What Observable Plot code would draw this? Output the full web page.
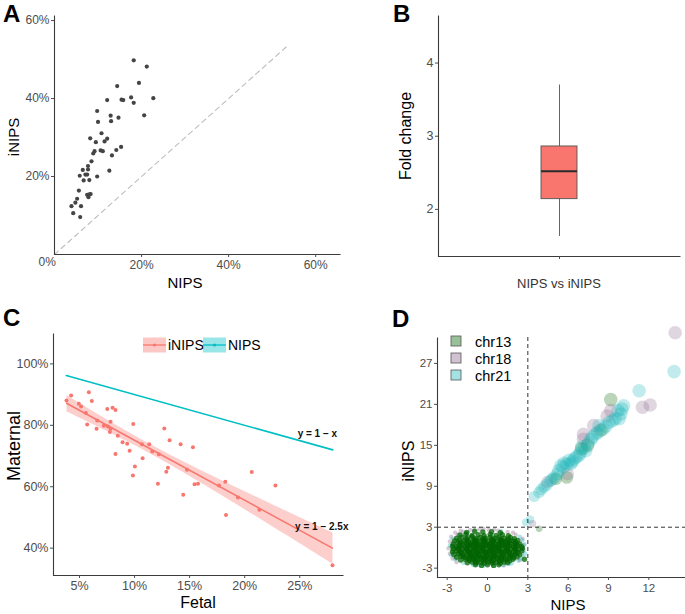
<!DOCTYPE html>
<html><head><meta charset="utf-8">
<script src="https://cdn.jsdelivr.net/npm/d3@7"></script>
<script src="https://cdn.jsdelivr.net/npm/@observablehq/plot@0.6"></script>
<style>
html,body{margin:0;padding:0;background:#fff;}
#fig{position:relative;width:685px;height:614px;background:#fff;overflow:hidden;}
#fig svg{position:absolute;}
</style></head>
<body><div id="fig"></div>
<script>
// ---------- Panel A: NIPS vs iNIPS fetal fraction (%)
const aNips  = [18.2,21.2,19.4,14.4,22.7,17.6,12.1,15.4,15.8,18.2,9.8,20.6,12.9,14.7,10.0,13.0,10.8,8.2,12.1,9.5,11.5,14.2,15.3,9.2,8.9,10.6,11.1,13.2,8.5,7.7,6.5,7.7,12.6,7.1,7.5,5.8,9.8,6.7,8.0,5.6,7.5,8.0,8.3,7.8,5.2,4.8,3.9,6.1,4.3,5.9];
const aInips = [49.8,48.2,44.0,43.2,40.1,40.3,39.6,39.7,39.6,38.9,36.8,35.7,35.6,35.1,34.0,34.2,31.1,29.8,29.7,28.8,29.0,26.8,27.6,26.5,25.9,26.7,26.5,25.4,23.9,22.7,21.7,21.8,21.5,20.5,20.5,20.2,20.0,19.0,19.1,16.4,15.3,15.4,15.5,14.7,14.3,13.3,12.4,12.4,10.6,9.6];
const aDiagX = [0, 53.5];
const aDiagY = [0, 53.5];
const aTicks = [20, 40, 60];

// ---------- Panel B: fold change summary
const bCategory = ["NIPS vs iNIPS"];
const bLower  = [1.63];
const bQ1     = [2.14];
const bMedian = [2.52];
const bQ3     = [2.86];
const bUpper  = [3.70];
const bTicks  = [2, 3, 4];

// ---------- Panel C: fetal vs maternal (%)
const cFetal    = [3.82,4.24,4.94,5.15,5.85,6.12,5.58,5.70,6.61,6.55,7.21,7.52,8.00,8.27,7.58,7.82,7.82,7.76,8.48,8.91,8.27,9.33,9.55,9.88,10.03,9.85,10.67,10.73,11.33,11.61,12.21,12.12,12.70,12.88,13.03,13.18,14.18,14.42,14.76,15.30,15.45,15.76,17.67,18.24,18.30,19.39,20.64,21.33,22.79,27.97];
const cMaternal = [88.1,89.7,87.0,86.1,90.8,87.9,84.0,80.3,81.6,78.9,79.9,85.3,85.7,85.0,79.6,81.2,78.9,77.8,76.6,74.5,70.7,74.0,71.7,80.4,66.6,63.7,73.8,69.3,73.8,71.5,70.6,61.0,79.0,64.9,66.2,75.1,73.8,57.4,65.5,72.9,60.8,61.0,60.4,61.6,50.8,56.5,64.8,52.5,60.4,34.4];
const cNipsFetal    = [3.8, 28.0];
const cNipsMaternal = [96.2, 72.0];
const cAnnotText = ["y = 1 \u2212 x", "y = 1 \u2212 2.5x"];
const cAnnotX    = [26.6, 27.0];
const cAnnotY    = [77.3, 46.9];
const cXTicks = [5, 10, 15, 20, 25];
const cYTicks = [40, 60, 80, 100];

// ---------- Panel D: z-scores, NIPS vs iNIPS
const d13Null = [[-1.55,2.25],[-0.95,2.4],[-0.35,2.3],[0.3,2.35],[0.95,2.2],
[-2.05,1.85],[-1.6,1.95],[-1.15,1.8],[-0.7,1.9],[-0.25,1.75],[0.2,1.95],[0.65,1.8],[1.1,1.9],[1.55,1.75],
[-2.3,1.4],[-1.9,1.55],[-1.5,1.45],[-1.15,1.6],[-0.85,1.35],[-0.5,1.5],[-0.15,1.4],[0.2,1.55],[0.5,1.35],[0.85,1.5],[1.25,1.4],[1.7,1.5],[2.0,1.3],
[-2.45,1.0],[-2.1,1.1],[-1.75,0.95],[-1.45,1.1],[-1.1,0.9],[-0.8,1.05],[-0.5,0.95],[-0.2,1.1],[0.1,0.9],[0.45,1.05],[0.75,0.95],[1.05,1.1],[1.35,0.9],[1.65,1.05],[1.95,0.95],[2.25,1.05],
[-2.55,0.55],[-2.2,0.7],[-1.85,0.5],[-1.55,0.65],[-1.25,0.55],[-0.95,0.7],[-0.65,0.5],[-0.35,0.65],[-0.05,0.55],[0.25,0.7],[0.55,0.5],[0.85,0.65],[1.15,0.55],[1.45,0.7],[1.75,0.5],[2.05,0.65],[2.4,0.55],
[-2.6,0.2],[-2.3,0.1],[-1.95,0.25],[-1.65,0.1],[-1.35,0.3],[-1.05,0.15],[-0.75,0.25],[-0.45,0.1],[-0.15,0.3],[0.15,0.15],[0.45,0.25],[0.75,0.1],[1.05,0.3],[1.35,0.15],[1.65,0.25],[1.95,0.1],[2.25,0.3],[2.55,0.15],
[-2.55,-0.2],[-2.25,-0.1],[-1.9,-0.25],[-1.6,-0.15],[-1.3,-0.3],[-1.0,-0.1],[-0.7,-0.25],[-0.4,-0.15],[-0.1,-0.3],[0.2,-0.1],[0.5,-0.25],[0.8,-0.15],[1.1,-0.3],[1.4,-0.1],[1.7,-0.25],[2.0,-0.15],[2.3,-0.3],[2.6,-0.1],
[-2.6,-0.6],[-2.3,-0.5],[-1.95,-0.65],[-1.65,-0.55],[-1.35,-0.7],[-1.05,-0.5],[-0.75,-0.65],[-0.45,-0.55],[-0.15,-0.7],[0.15,-0.5],[0.45,-0.65],[0.75,-0.55],[1.05,-0.7],[1.35,-0.5],[1.65,-0.65],[1.95,-0.55],[2.25,-0.7],[2.55,-0.5],
[-2.5,-1.0],[-2.15,-0.9],[-1.85,-1.05],[-1.55,-0.95],[-1.25,-1.1],[-0.95,-0.9],[-0.65,-1.05],[-0.35,-0.95],[-0.05,-1.1],[0.25,-0.9],[0.55,-1.05],[0.85,-0.95],[1.15,-1.1],[1.45,-0.9],[1.75,-1.05],[2.05,-0.95],[2.4,-1.05],
[-2.3,-1.4],[-1.95,-1.3],[-1.65,-1.45],[-1.35,-1.35],[-1.05,-1.5],[-0.75,-1.3],[-0.45,-1.45],[-0.15,-1.35],[0.15,-1.5],[0.45,-1.3],[0.75,-1.45],[1.05,-1.35],[1.35,-1.5],[1.65,-1.3],[1.95,-1.45],[2.2,-1.35],
[-2.0,-1.8],[-1.65,-1.7],[-1.35,-1.85],[-1.05,-1.75],[-0.75,-1.9],[-0.45,-1.7],[-0.15,-1.85],[0.15,-1.75],[0.45,-1.9],[0.75,-1.7],[1.05,-1.85],[1.35,-1.75],[1.65,-1.9],[1.9,-1.7],
[-1.5,-2.2],[-1.15,-2.1],[-0.85,-2.25],[-0.55,-2.15],[-0.25,-2.3],[0.05,-2.1],[0.35,-2.25],[0.65,-2.15],[0.95,-2.3],[1.25,-2.1],[1.5,-2.2],
[-0.9,-2.5],[-0.45,-2.6],[0.0,-2.5],[0.45,-2.6],[0.85,-2.5],
[-1.6,1.25],[-1.0,1.2],[-0.35,1.25],[0.3,1.2],[0.95,1.25],[1.5,1.2],
[-2.0,0.8],[-1.4,0.85],[-0.8,0.8],[-0.2,0.85],[0.4,0.8],[1.0,0.85],[1.6,0.8],[2.1,0.8],
[-2.1,0.4],[-1.5,0.45],[-0.9,0.4],[-0.3,0.45],[0.3,0.4],[0.9,0.45],[1.5,0.4],[2.1,0.45],
[-2.1,0.0],[-1.5,0.05],[-0.9,0.0],[-0.3,0.05],[0.3,0.0],[0.9,0.05],[1.5,0.0],[2.1,0.05],
[-2.1,-0.4],[-1.5,-0.35],[-0.9,-0.4],[-0.3,-0.35],[0.3,-0.4],[0.9,-0.35],[1.5,-0.4],[2.1,-0.35],
[-2.0,-0.8],[-1.4,-0.75],[-0.8,-0.8],[-0.2,-0.75],[0.4,-0.8],[1.0,-0.75],[1.6,-0.8],[2.1,-0.75],
[-1.8,-1.2],[-1.2,-1.15],[-0.6,-1.2],[0.0,-1.15],[0.6,-1.2],[1.2,-1.15],[1.8,-1.2],
[-1.4,-1.6],[-0.8,-1.55],[-0.2,-1.6],[0.4,-1.55],[1.0,-1.6],[1.6,-1.55],
[-0.9,-2.0],[-0.3,-1.95],[0.3,-2.0],[0.9,-1.95],[2.75,-1.7],
[-1.25,0.35],[-0.6,0.2],[0.05,0.35],[0.6,0.2],[1.25,0.35],[-1.25,-0.55],[-0.6,-0.45],[0.05,-0.6],[0.6,-0.45],[1.25,-0.6],
[-1.0,-1.3],[-0.3,-1.4],[0.35,-1.3],[1.0,-1.4],[-0.95,1.0],[-0.25,0.95],[0.45,1.0],[1.1,0.95]];
const d18Null = [[-2.7,1.6],[-2.4,2.2],[-2.0,2.5],[-1.3,2.6],[-0.6,2.7],[0.1,2.6],[0.8,2.5],[1.5,2.3],[2.1,1.9],[-2.8,0.9],[-2.9,-0.1],[-2.8,-0.9],[-2.6,-1.6],[2.6,1.3],[1.9,2.2],[-1.8,2.3],[-2.2,1.9],[0.5,2.65],[-1.0,2.55],[2.4,-1.8],[-0.2,1.2],[0.6,-0.3],[-1.2,-1.0],[1.3,0.5],[2.7,0.4],[-2.3,-2.1],[1.2,-2.6],[-0.3,2.75]];
const d21Null = [[2.7,-0.4],[2.6,-1.2],[2.3,-1.9],[1.8,-2.3],[1.2,-2.55],[0.5,-2.7],[-0.3,-2.7],[-1.1,-2.5],[-1.8,-2.2],[-2.4,-1.7],[-2.7,-1.1],[2.75,0.5],[2.6,1.1],[2.4,1.6],[-2.8,0.3],[-2.6,1.3],[1.0,2.4],[2.8,-0.9],[2.5,-1.6],[1.6,-2.4],[-0.6,-2.55],[-1.5,2.2],[0.0,-0.5],[-0.8,0.4],[1.1,-0.7],[2.0,0.9],[-1.7,-0.3],[0.4,1.8]];
const d13Pos = [[9.17,21.7],[8.43,17.2],[7.44,15.0],[7.0,14.5],[5.9,10.3],[5.08,10.1],[3.84,2.76]];
const d18Pos = [[13.96,31.5],[11.53,20.57],[12.1,20.9],[9.17,20.1],[8.9,19.3],[7.9,17.9],[7.14,16.6],[7.14,15.9],[5.95,10.8],[4.46,9.6],[3.35,3.5]];
const d21Pos = [[13.88,25.8],[11.28,23.0],[10.12,20.8],[9.92,19.6],[9.8,18.9],[9.3,18.6],[9.05,18.4],[8.6,17.4],[8.3,17.9],[8.06,16.7],[7.69,15.9],[7.5,15.3],[7.3,14.2],[7.0,14.8],[6.8,13.5],[6.45,13.0],[6.3,12.6],[6.07,12.8],[5.9,12.2],[5.7,12.4],[5.45,12.0],[5.2,10.8],[4.96,10.3],[4.66,9.8],[4.4,9.2],[4.2,8.9],[3.84,8.1],[3.47,7.5],[2.85,3.7],[3.17,4.1],
[4.0,8.5],[4.8,10.0],[5.3,11.3],[5.6,11.8],[6.2,12.3],[6.6,13.3],[6.9,13.9],[7.2,14.6],[7.8,16.2],[8.2,16.9],[8.8,17.8],[9.5,18.9],[9.7,20.1],[10.0,20.3]];
const dCutoff = [3];
const dXTicks = [-3, 0, 3, 6, 9, 12];
const dYTicks = [-3, 3, 9, 15, 21, 27];
const dChr = ["chr13", "chr18", "chr21"];
const dColors = ["#006400", "#8B668B", "#1AB5B8"];

// ---------- drawing
const FONT = "'Liberation Sans', Arial, Helvetica, sans-serif";
const fig = document.getElementById("fig");
function place(el, left, top) { el.style.left = left + "px"; el.style.top = top + "px"; fig.appendChild(el); }
const pct = d => d + "%";
const plain = d => String(d);
const baseStyle = fs => ({fontFamily: FONT, fontSize: fs, color: "#4d4d4d", background: "transparent", overflow: "visible"});
// left+bottom axis lines via a frame whose top/right edges are dashed away
const lframe = (w, h) => Plot.frame({stroke: "#3a3a3a", strokeWidth: 1.1, strokeDasharray: `0 ${w + h} ${w + h}`});

// A
const aData = aNips.map((x, i) => ({nips: x, inips: aInips[i]}));
const aDiag = aDiagX.map((x, i) => ({x, y: aDiagY[i]}));
place(Plot.plot({
  width: 342, height: 300, marginLeft: 54, marginRight: 2, marginTop: 15, marginBottom: 46,
  x: {domain: [0, 65.7]}, y: {domain: [0, 61.3]},
  style: baseStyle("12px"),
  marks: [
    Plot.line(aDiag, {x: "x", y: "y", stroke: "#bdbdbd", strokeWidth: 1.1, strokeDasharray: "5,4"}),
    Plot.dot(aData, {x: "nips", y: "inips", r: 2.1, fill: "#444", stroke: "none"}),
    lframe(286, 239),
    Plot.axisX({ticks: aTicks, tickFormat: pct, tickSize: 3, tickPadding: 3, label: null}),
    Plot.axisY({ticks: aTicks, tickFormat: pct, tickSize: 3, tickPadding: 2, label: null}),
    Plot.text(["0%"], {frameAnchor: "bottom-left", dx: -16, dy: 11, fill: "#4d4d4d"})
  ]
}), 0, 0);

// B
const bData = bCategory.map((c, i) => ({cat: c, lo: bLower[i], q1: bQ1[i], med: bMedian[i], q3: bQ3[i], hi: bUpper[i]}));
place(Plot.plot({
  width: 343, height: 300, marginLeft: 96, marginRight: 5, marginTop: 15, marginBottom: 44,
  x: {type: "band", domain: bCategory, padding: 0.74}, y: {domain: [1.356, 4.65]},
  style: baseStyle("12.5px"),
  marks: [
    Plot.ruleX(bData, {x: "cat", y1: "lo", y2: "hi", stroke: "#666", strokeWidth: 1}),
    Plot.barY(bData, {x: "cat", y1: "q1", y2: "q3", fill: "#F8766D", stroke: "#555", strokeWidth: 0.9}),
    Plot.tickY(bData, {x: "cat", y: "med", stroke: "#2b2b2b", strokeWidth: 2}),
    lframe(242, 241),
    Plot.axisX({tickSize: 3, tickFormat: () => "", label: null}),
    Plot.axisY({ticks: bTicks, tickFormat: plain, tickSize: 3, tickPadding: 2, label: null})
  ]
}), 342, 0);

// C
const cData = cFetal.map((x, i) => ({fetal: x, maternal: cMaternal[i]}));
const cNips = cNipsFetal.map((x, i) => ({fetal: x, maternal: cNipsMaternal[i]}));
const cAnnot = cAnnotText.map((t, i) => ({t, x: cAnnotX[i], y: cAnnotY[i]}));
place(Plot.plot({
  width: 345, height: 314, marginLeft: 53, marginRight: 2, marginTop: 33, marginBottom: 39,
  x: {domain: [2.64, 28.97]}, y: {domain: [31.1, 109.9]},
  style: baseStyle("12.5px"),
  marks: [
    Plot.linearRegressionY(cData, {x: "fetal", y: "maternal", stroke: "#F8766D", fill: "#F8766D", fillOpacity: 0.35, strokeWidth: 1.5}),
    Plot.dot(cData, {x: "fetal", y: "maternal", r: 2, fill: "#F8766D", stroke: "none"}),
    Plot.line(cNips, {x: "fetal", y: "maternal", stroke: "#00BFC4", strokeWidth: 1.6}),
    Plot.text(cAnnot, {x: "x", y: "y", text: "t", fill: "#111", fontSize: 10, fontWeight: "bold"}),
    lframe(290, 242),
    Plot.axisX({ticks: cXTicks, tickFormat: pct, tickSize: 3, tickPadding: 3, label: null}),
    Plot.axisY({ticks: cYTicks, tickFormat: pct, tickSize: 3, tickPadding: 2, label: null})
  ]
}), 0, 300);

// D
const pts = a => a.map(p => ({x: p[0], y: p[1]}));
const nullMark = (a, c, op, r) => Plot.dot(pts(a), {x: "x", y: "y", r, fill: c, fillOpacity: op, stroke: "none"});
const posMark = (a, c) => Plot.dot(pts(a), {x: "x", y: "y", r: "y", fill: c, fillOpacity: 0.27, stroke: "none"});
place(Plot.plot({
  width: 340, height: 314, marginLeft: 92, marginRight: 0, marginTop: 37, marginBottom: 37,
  x: {domain: [-3.72, 14.73]}, y: {domain: [-4.37, 30.8]},
  r: {type: "log", domain: [3, 12], range: [3.3, 6.8], clamp: true},
  style: baseStyle("11.5px"),
  marks: [
    nullMark(d18Null, dColors[1], 0.35, 2.2),
    nullMark(d21Null, dColors[2], 0.35, 2.2),
    nullMark(d13Null, dColors[0], 0.75, 2.7),
    posMark(d13Pos, dColors[0]),
    posMark(d18Pos, dColors[1]),
    posMark(d21Pos, dColors[2]),
    Plot.ruleX(dCutoff, {stroke: "#333", strokeWidth: 1, strokeDasharray: "4,3"}),
    Plot.ruleY(dCutoff, {stroke: "#333", strokeWidth: 1, strokeDasharray: "4,3"}),
    lframe(248, 240),
    Plot.axisX({ticks: dXTicks, tickFormat: plain, tickSize: 3, tickPadding: 3, label: null}),
    Plot.axisY({ticks: dYTicks, tickFormat: plain, tickSize: 3, tickPadding: 2, label: null})
  ]
}), 345, 300);

// overlay: panel letters, axis titles, legends
const NS = "http://www.w3.org/2000/svg";
const ov = document.createElementNS(NS, "svg");
ov.setAttribute("width", 685); ov.setAttribute("height", 614);
ov.setAttribute("font-family", FONT);
ov.style.left = "0px"; ov.style.top = "0px"; ov.style.pointerEvents = "none";
function txt(s, x, y, o = {}) {
  const t = document.createElementNS(NS, "text");
  t.textContent = s;
  if (o.rot) { t.setAttribute("transform", `translate(${x},${y}) rotate(-90)`); }
  else { t.setAttribute("x", x); t.setAttribute("y", y); }
  t.setAttribute("font-size", o.fs || 15);
  t.setAttribute("fill", o.fill || "#000");
  if (o.bold) t.setAttribute("font-weight", "bold");
  t.setAttribute("text-anchor", o.anchor || "middle");
  ov.appendChild(t);
}
function el(tag, attrs) { const e = document.createElementNS(NS, tag); for (const k in attrs) e.setAttribute(k, attrs[k]); ov.appendChild(e); }
txt("A", 3, 22, {fs: 24, bold: true, anchor: "start"});
txt("B", 393, 22, {fs: 24, bold: true, anchor: "start"});
txt("C", 3, 326, {fs: 24, bold: true, anchor: "start"});
txt("D", 392, 327, {fs: 24, bold: true, anchor: "start"});
txt("NIPS", 185, 288, {fs: 15});
txt("iNIPS", 19, 137, {fs: 15, rot: true});
txt("Fold change", 411, 136, {fs: 16, rot: true});
txt("NIPS vs iNIPS", 559, 288, {fs: 13, fill: "#333"});
txt("Maternal", 20, 446, {fs: 18, rot: true});
txt("Fetal", 198, 608, {fs: 16});
txt("iNIPS", 414, 461, {fs: 16, rot: true});
txt("NIPS", 568, 610, {fs: 15});
// legend C
const cLeg = [["iNIPS", "#F8766D", 143], ["NIPS", "#00BFC4", 203]];
for (const [lab, col, x0] of cLeg) {
  el("rect", {x: x0, y: 337.5, width: 23, height: 15, fill: col, "fill-opacity": 0.4});
  el("line", {x1: x0, x2: x0 + 23, y1: 345, y2: 345, stroke: col, "stroke-width": 1.3});
  el("circle", {cx: x0 + 11.5, cy: 345, r: 1.6, fill: col});
  txt(lab, x0 + 25, 350, {fs: 14, anchor: "start"});
}
// legend D
dChr.forEach((lab, i) => {
  const y0 = 336 + i * 17;
  el("rect", {x: 451, y: y0, width: 10, height: 10, fill: dColors[i], "fill-opacity": 0.4, stroke: "#555", "stroke-width": 0.8});
  txt(lab, 475, y0 + 11, {fs: 14.5, anchor: "start"});
});
fig.appendChild(ov);
</script>
</body></html>
